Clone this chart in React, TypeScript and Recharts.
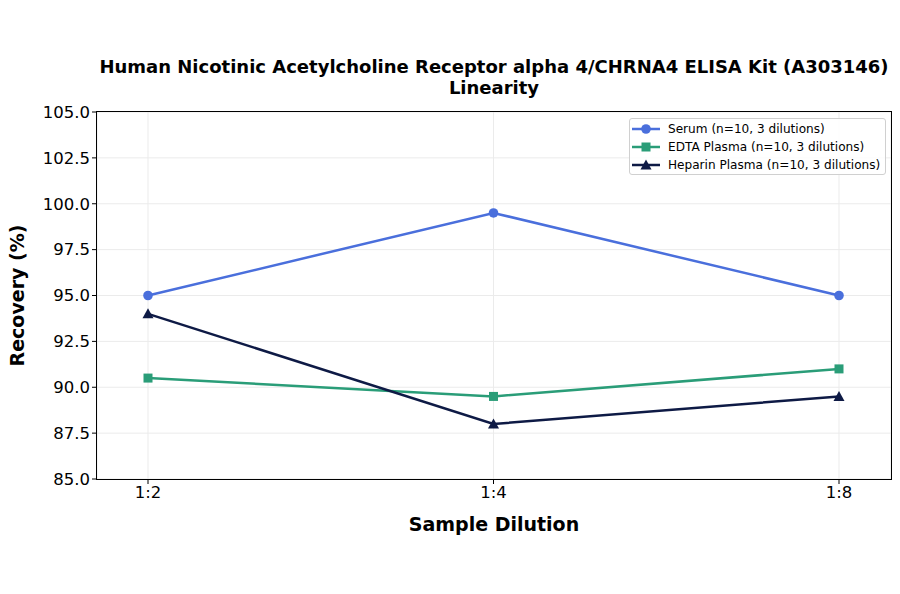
import React from 'react';
import {
    LineChart,
    Line,
    XAxis,
    YAxis,
    CartesianGrid,
    Label,
} from 'recharts';

const dilutions = ['1:2', '1:4', '1:8'];
const serum = [95.0, 99.5, 95.0];
const edtaPlasma = [90.5, 89.5, 91.0];
const heparinPlasma = [94.0, 88.0, 89.5];
const yTicks = [85, 87.5, 90, 92.5, 95, 97.5, 100, 102.5, 105];

const series = [
    { key: 'serum', name: 'Serum (n=10, 3 dilutions)', color: '#4a6fdc', shape: 'circle' },
    { key: 'edta', name: 'EDTA Plasma (n=10, 3 dilutions)', color: '#2a9d78', shape: 'square' },
    { key: 'heparin', name: 'Heparin Plasma (n=10, 3 dilutions)', color: '#0e1a45', shape: 'triangle' },
];

const chartData = dilutions.map((d, i) => ({
    dilution: d,
    serum: serum[i],
    edta: edtaPlasma[i],
    heparin: heparinPlasma[i],
}));

const FONT = '"DejaVu Sans", sans-serif';

function Marker({ shape, cx, cy, color }: { shape: string; cx: number; cy: number; color: string }) {
    if (shape === 'square') {
        return <rect x={cx - 4.5} y={cy - 4.5} width={9} height={9} fill={color} />;
    }
    if (shape === 'triangle') {
        return (
            <polygon
                points={`${cx},${cy - 5.5} ${cx + 5.5},${cy + 4.5} ${cx - 5.5},${cy + 4.5}`}
                fill={color}
            />
        );
    }
    return <circle cx={cx} cy={cy} r={4.8} fill={color} />;
}

function makeDot(shape: string, color: string) {
    return (props: any) => {
        const { cx, cy, index } = props;
        if (cx == null || cy == null) return <g key={index} />;
        return <Marker key={index} shape={shape} cx={cx} cy={cy} color={color} />;
    };
}

function LegendBox() {
    return (
        <div
            style={{
                position: 'absolute',
                left: 629,
                top: 118,
                width: 257,
                height: 57,
                boxSizing: 'border-box',
                border: '1px solid #d0d0d0',
                borderRadius: 3,
                background: 'rgba(255,255,255,0.85)',
                padding: '1px 0 0 2px',
                fontFamily: FONT,
                fontSize: 12.1,
                color: '#000',
            }}
        >
            {series.map((s) => (
                <div key={s.key} style={{ display: 'flex', alignItems: 'center', height: 18 }}>
                    <svg width={28} height={14} style={{ marginRight: 8 }}>
                        <line x1={0} y1={7} x2={28} y2={7} stroke={s.color} strokeWidth={2.5} />
                        <Marker shape={s.shape} cx={14} cy={7} color={s.color} />
                    </svg>
                    <span>{s.name}</span>
                </div>
            ))}
        </div>
    );
}

export default function App() {
    return (
        <div style={{ position: 'absolute', left: 0, top: 0, width: 900, height: 594, background: '#fff' }}>
            <div
                style={{
                    position: 'absolute',
                    left: 47,
                    width: 894,
                    top: 56,
                    textAlign: 'center',
                    fontFamily: FONT,
                    fontWeight: 'bold',
                    fontSize: 18,
                    lineHeight: '21px',
                    color: '#000',
                }}
            >
                Human Nicotinic Acetylcholine Receptor alpha 4/CHRNA4 ELISA Kit (A303146)
                <br />
                Linearity
            </div>
            <LineChart
                width={900}
                height={594}
                data={chartData}
                margin={{ top: 112, right: 9, bottom: 85, left: 37 }}
            >
                <CartesianGrid stroke="#ebebeb" strokeWidth={1} />
                <XAxis
                    dataKey="dilution"
                    type="category"
                    padding={{ left: 51, right: 52 }}
                    height={30}
                    axisLine={false}
                    tickLine={{ stroke: '#000' }}
                    tickSize={5}
                    tick={{ fill: '#000', fontSize: 16.5, fontFamily: FONT }}
                >
                    <Label
                        value="Sample Dilution"
                        position="bottom"
                        offset={5}
                        style={{ fontFamily: FONT, fontWeight: 'bold', fontSize: 19, fill: '#000' }}
                        dy={4}
                    />
                </XAxis>
                <YAxis
                    domain={[85, 105]}
                    ticks={yTicks}
                    interval={0}
                    width={60}
                    axisLine={false}
                    tickLine={{ stroke: '#000' }}
                    tickSize={5}
                    tickFormatter={(v: number) => v.toFixed(1)}
                    tick={{ fill: '#000', fontSize: 16.5, fontFamily: FONT }}
                >
                    <Label
                        value="Recovery (%)"
                        angle={-90}
                        position="insideLeft"
                        offset={-20}
                        style={{ fontFamily: FONT, fontWeight: 'bold', fontSize: 19, fill: '#000', textAnchor: 'middle' }}
                    />
                </YAxis>
                {series.map((s) => (
                    <Line
                        key={s.key}
                        type="linear"
                        dataKey={s.key}
                        name={s.name}
                        stroke={s.color}
                        strokeWidth={2.5}
                        dot={makeDot(s.shape, s.color)}
                        activeDot={false}
                        isAnimationActive={false}
                    />
                ))}
            </LineChart>
            <div
                style={{
                    position: 'absolute',
                    left: 96,
                    top: 111,
                    width: 796,
                    height: 369,
                    boxSizing: 'border-box',
                    border: '1.2px solid #000',
                    pointerEvents: 'none',
                }}
            />
            <LegendBox />
        </div>
    );
}
